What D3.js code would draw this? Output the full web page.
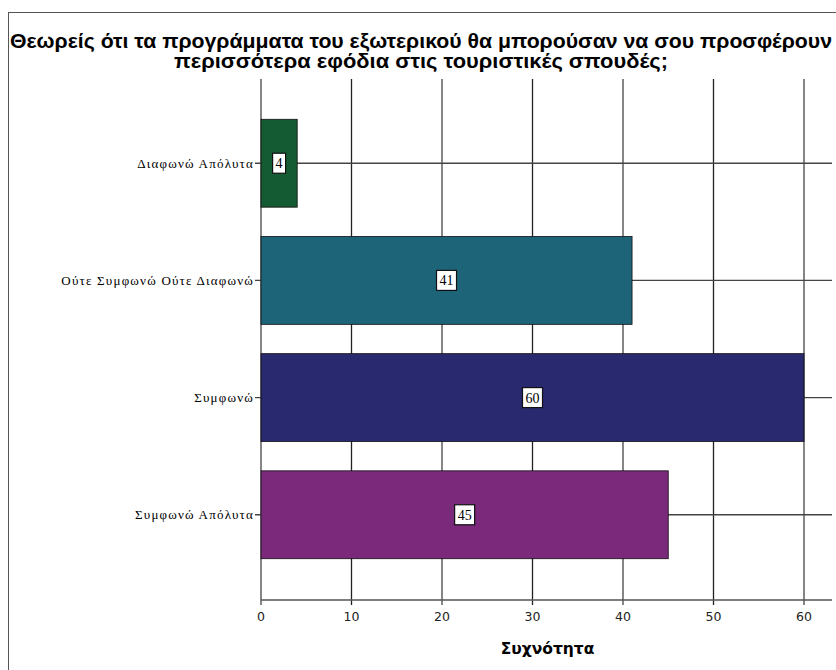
<!DOCTYPE html>
<html>
<head>
<meta charset="utf-8">
<script src="https://cdn.jsdelivr.net/npm/d3@7"></script>
<style>
	body { margin: 0; background: #fff; }
	svg { display: block; }
</style>
</head>
<body>
<div id="chart"></div>
<script>
// data
const categories = ['Διαφωνώ Απόλυτα', 'Ούτε Συμφωνώ Ούτε Διαφωνώ', 'Συμφωνώ', 'Συμφωνώ Απόλυτα'];
const counts = [4, 41, 60, 45];
const barColors = ['#145a32', '#1e6479', '#29296f', '#7b2a7b'];
const xTicks = [0, 10, 20, 30, 40, 50, 60];
const titleLines = ['Θεωρείς ότι τα προγράμματα του εξωτερικού θα μπορούσαν να σου προσφέρουν',
	'περισσότερα εφόδια στις τουριστικές σπουδές;'];

const width = 836;
const height = 670;
const margin = {top: 79, right: 4, bottom: 70, left: 261};

const svg = d3.select('#chart')
	.append('svg')
	.attr('width', width)
	.attr('height', height);

// outer frame
svg.append('rect')
	.attr('x', 8.5).attr('y', 12.5)
	.attr('width', width).attr('height', height)
	.attr('fill', 'none')
	.attr('stroke', '#555');

// title, squeezed a bit like the original
const titleWidths = [822, 494];
svg.append('g')
	.selectAll('text')
	.data(titleLines)
	.join('text')
	.attr('x', 421)
	.attr('y', (d, i) => 48 + i * 20)
	.attr('text-anchor', 'middle')
	.attr('textLength', (d, i) => titleWidths[i])
	.attr('lengthAdjust', 'spacingAndGlyphs')
	.style('font-family', 'Liberation Sans, Arial, sans-serif')
	.style('font-weight', 'bold')
	.style('font-size', '19.5px')
	.text(d => d);

const x = d3.scaleLinear()
	.domain([0, 60])
	.range([margin.left, 804]);

const y = d3.scaleBand()
	.domain(categories)
	.range([90, 588])
	.paddingInner(0.25)
	.paddingOuter(0.25);

const plotBottom = 600;
const plotRight = width - margin.right;

// grid lines
svg.append('g')
	.selectAll('line')
	.data(xTicks)
	.join('line')
	.attr('x1', d => x(d)).attr('x2', d => x(d))
	.attr('y1', margin.top).attr('y2', plotBottom + 5)
	.attr('stroke', (d, i) => i % 2 ? '#222' : '#444')
	.attr('stroke-width', 1.3);

svg.append('g')
	.selectAll('line')
	.data(categories)
	.join('line')
	.attr('x1', margin.left - 6).attr('x2', plotRight)
	.attr('y1', d => y(d) + y.bandwidth() / 2)
	.attr('y2', d => y(d) + y.bandwidth() / 2)
	.attr('stroke', '#444')
	.attr('stroke-width', 1.3);

// axis line
svg.append('line')
	.attr('x1', margin.left).attr('x2', plotRight)
	.attr('y1', plotBottom).attr('y2', plotBottom)
	.attr('stroke', '#555')
	.attr('stroke-width', 1.3);

// bars
svg.append('g')
	.selectAll('rect')
	.data(counts)
	.join('rect')
	.attr('x', x(0))
	.attr('y', (d, i) => y(categories[i]))
	.attr('width', d => x(d) - x(0))
	.attr('height', y.bandwidth())
	.attr('fill', (d, i) => barColors[i])
	.attr('stroke', '#111')
	.attr('stroke-width', 0.8);

// value labels
const lab = svg.append('g')
	.selectAll('g')
	.data(counts)
	.join('g')
	.attr('transform', (d, i) => `translate(${(x(d) + x(0)) / 2},${y(categories[i]) + y.bandwidth() / 2})`);

lab.append('rect')
	.attr('x', d => -(String(d).length * 7 + 6) / 2)
	.attr('y', -10)
	.attr('width', d => String(d).length * 7 + 6)
	.attr('height', 20)
	.attr('fill', '#fff')
	.attr('stroke', '#111')
	.attr('stroke-width', 1.2);

lab.append('text')
	.attr('text-anchor', 'middle')
	.attr('dy', '0.36em')
	.style('font-family', 'Liberation Serif, Times New Roman, serif')
	.style('font-size', '14px')
	.text(d => d);

// category labels
svg.append('g')
	.selectAll('text')
	.data(categories)
	.join('text')
	.attr('x', margin.left - 7)
	.attr('y', d => y(d) + y.bandwidth() / 2)
	.attr('dy', '0.35em')
	.attr('text-anchor', 'end')
	.style('font-family', 'Liberation Serif, Times New Roman, serif')
	.style('font-size', '13px')
	.style('letter-spacing', '1.2px')
	.text(d => d);

// x tick labels
svg.append('g')
	.selectAll('text')
	.data(xTicks)
	.join('text')
	.attr('x', d => x(d))
	.attr('y', 621)
	.attr('text-anchor', 'middle')
	.style('font-family', 'DejaVu Sans, sans-serif')
	.style('font-size', '12.5px')
	.style('fill', '#222')
	.text(d => d);

svg.append('text')
	.attr('x', (x(0) + plotRight) / 2 + 1)
	.attr('y', 654)
	.attr('text-anchor', 'middle')
	.style('font-family', 'DejaVu Sans, sans-serif')
	.style('font-weight', 'bold')
	.style('font-size', '15.5px')
	.text('Συχνότητα');
</script>
</body>
</html>
